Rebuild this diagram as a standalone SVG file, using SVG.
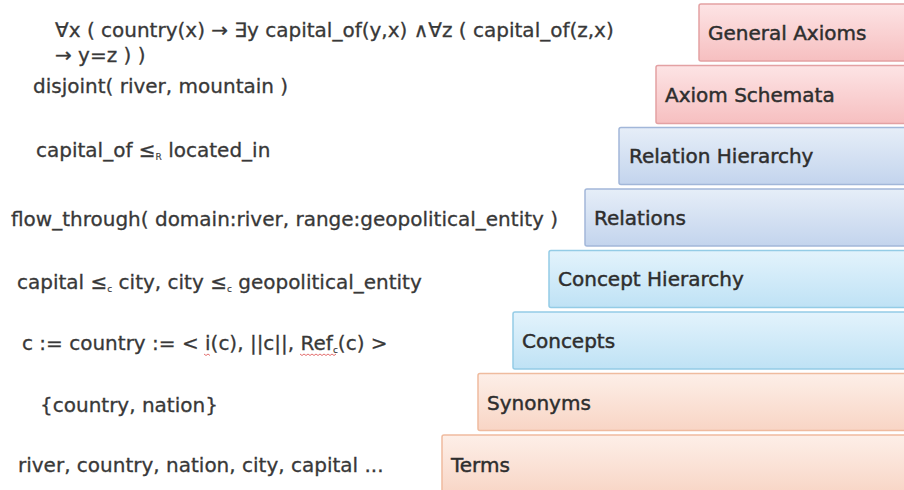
<svg xmlns="http://www.w3.org/2000/svg" width="904" height="490" viewBox="0 0 904 490">
<defs>
<linearGradient id="gPink" x1="0" y1="0" x2="0" y2="1"><stop offset="0" stop-color="#fde4e5"/><stop offset="1" stop-color="#f6bfc0"/></linearGradient>
<linearGradient id="gLav" x1="0" y1="0" x2="0" y2="1"><stop offset="0" stop-color="#e6eef8"/><stop offset="1" stop-color="#c3d4ed"/></linearGradient>
<linearGradient id="gCyan" x1="0" y1="0" x2="0" y2="1"><stop offset="0" stop-color="#e3f3fc"/><stop offset="1" stop-color="#bfe2f5"/></linearGradient>
<linearGradient id="gPeach" x1="0" y1="0" x2="0" y2="1"><stop offset="0" stop-color="#fdefe8"/><stop offset="1" stop-color="#f8d5c5"/></linearGradient>
</defs>
<style>
.lbl{font-family:"DejaVu Sans","Liberation Sans",sans-serif;font-size:20px;fill:#2e2e2e;stroke:#2e2e2e;stroke-width:0.45px}
.txt{font-family:"DejaVu Sans","Liberation Sans",sans-serif;font-size:20px;fill:#383838;stroke:#383838;stroke-width:0.3px}
.sub{font-size:9px;stroke-width:0.15px}
.pink{fill:url(#gPink);stroke:#e3a1a3;stroke-width:1.5}
.lav{fill:url(#gLav);stroke:#a2b7d9;stroke-width:1.5}
.cyan{fill:url(#gCyan);stroke:#94cce6;stroke-width:1.5}
.peach{fill:url(#gPeach);stroke:#efbb9e;stroke-width:1.5}
.squig{fill:none;stroke:#e06060;stroke-width:0.9}
</style>
<g id="layers">
<g id="general-axioms"><rect class="pink" x="699" y="4" width="220" height="57" rx="2"/><text class="lbl" x="708" y="40">General Axioms</text></g>
<g id="axiom-schemata"><rect class="pink" x="656" y="65.5" width="260" height="58" rx="2"/><text class="lbl" x="665" y="102">Axiom Schemata</text></g>
<g id="relation-hierarchy"><rect class="lav" x="619" y="127.5" width="300" height="57" rx="2"/><text class="lbl" x="629" y="163">Relation Hierarchy</text></g>
<g id="relations"><rect class="lav" x="585" y="189" width="330" height="57" rx="2"/><text class="lbl" x="594" y="225">Relations</text></g>
<g id="concept-hierarchy"><rect class="cyan" x="549" y="250.5" width="370" height="57" rx="2"/><text class="lbl" x="558" y="286">Concept Hierarchy</text></g>
<g id="concepts"><rect class="cyan" x="513" y="312" width="400" height="57" rx="2"/><text class="lbl" x="522" y="348">Concepts</text></g>
<g id="synonyms"><rect class="peach" x="478" y="373.5" width="440" height="57" rx="2"/><text class="lbl" x="487" y="410">Synonyms</text></g>
<g id="terms"><rect class="peach" x="442" y="435" width="480" height="60" rx="2"/><text class="lbl" x="451" y="472">Terms</text></g>
</g>
<g id="examples">
<text class="txt" x="55" y="37">∀x ( country(x) → ∃y capital_of(y,x) ∧∀z ( capital_of(z,x)</text>
<text class="txt" x="55" y="62">→ y=z ) )</text>
<text class="txt" x="33" y="93">disjoint( river, mountain )</text>
<text class="txt" x="36" y="157">capital_of ≤<tspan class="sub" dy="3">R</tspan><tspan dy="-3"> located_in</tspan></text>
<text class="txt" x="11" y="226">flow_through( domain:river, range:geopolitical_entity )</text>
<text class="txt" x="17" y="289">capital ≤<tspan class="sub" dy="3">c</tspan><tspan dy="-3"> city, city ≤</tspan><tspan class="sub" dy="3">c</tspan><tspan dy="-3"> geopolitical_entity</tspan></text>
<text class="txt" x="22" y="350">c := country := &lt; i(c), ||c||, Ref<tspan class="sub" dy="3">c</tspan><tspan dy="-3">(c) &gt;</tspan></text>
<path class="squig" d="M204 354 l2 1.5 l2 -1.5 l2 1.5"/>
<path class="squig" d="M300 354 l2 1.5 l2 -1.5 l2 1.5 l2 -1.5 l2 1.5 l2 -1.5 l2 1.5 l2 -1.5 l2 1.5 l2 -1.5 l2 1.5 l2 -1.5 l2 1.5 l2 -1.5 l2 1.5 l2 -1.5 l2 1.5 l2 -1.5"/>
<text class="txt" x="40" y="412">{country, nation}</text>
<text class="txt" x="18" y="472">river, country, nation, city, capital ...</text>
</g>
</svg>
